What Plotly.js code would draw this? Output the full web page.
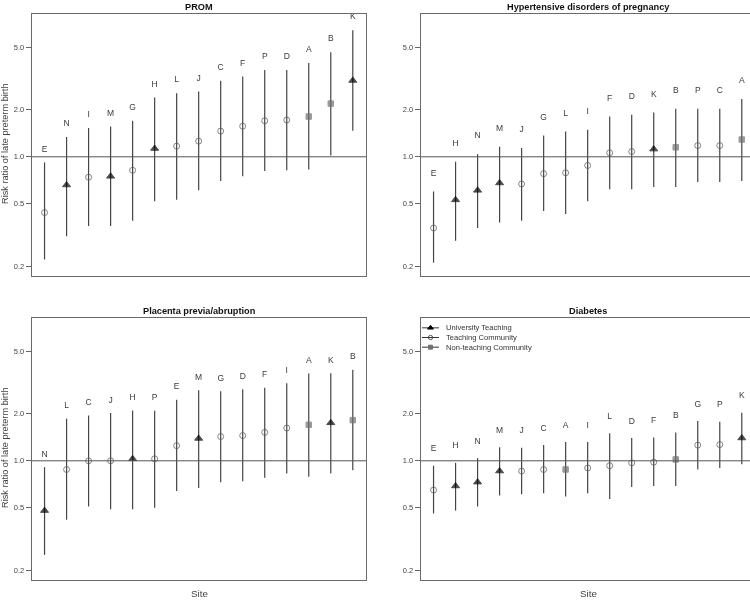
<!DOCTYPE html>
<html>
<head>
<meta charset="utf-8">
<script src="https://cdn.plot.ly/plotly-3.0.1.min.js"></script>
<style>
  html, body { margin: 0; padding: 0; overflow: hidden; background: #fff; }
  #chart { width: 760px; height: 603px; opacity: 0.999; will-change: transform; }
</style>
</head>
<body>
<div id="chart"></div>
<script>
// ---------- data ----------
const panelTitles = ['PROM', 'Hypertensive disorders of pregnancy', 'Placenta previa/abruption', 'Diabetes'];

const promSites = ['E','N','I','M','G','H','L','J','C','F','P','D','A','B','K'];
const promRR    = [0.44,0.66,0.74,0.75,0.82,1.13,1.17,1.26,1.46,1.57,1.70,1.72,1.81,2.19,3.08];
const promLo    = [0.22,0.31,0.36,0.36,0.39,0.52,0.53,0.61,0.70,0.75,0.81,0.82,0.83,1.02,1.47];
const promHi    = [0.92,1.34,1.53,1.56,1.70,2.40,2.55,2.62,3.07,3.27,3.59,3.59,3.98,4.67,6.45];

const hypSites = ['E','H','N','M','J','G','L','I','F','D','K','B','P','C','A'];
const hypRR    = [0.35,0.53,0.61,0.68,0.67,0.78,0.79,0.88,1.06,1.08,1.12,1.15,1.18,1.18,1.29];
const hypLo    = [0.21,0.29,0.35,0.38,0.39,0.45,0.43,0.52,0.62,0.62,0.64,0.64,0.69,0.69,0.70];
const hypHi    = [0.60,0.93,1.04,1.16,1.14,1.37,1.45,1.49,1.81,1.86,1.92,2.03,2.03,2.03,2.34];

const plaSites = ['N','L','C','J','H','P','E','M','G','D','F','I','A','K','B'];
const plaRR    = [0.48,0.88,1.00,1.00,1.03,1.03,1.25,1.39,1.43,1.45,1.52,1.62,1.70,1.75,1.82];
const plaLo    = [0.25,0.42,0.51,0.49,0.49,0.50,0.64,0.67,0.73,0.74,0.78,0.83,0.79,0.83,0.87];
const plaHi    = [0.91,1.86,1.95,2.02,2.10,2.09,2.46,2.83,2.79,2.87,2.93,3.14,3.62,3.64,3.82];

const diaSites = ['E','H','N','M','J','C','A','I','L','D','F','B','G','P','K'];
const diaRR    = [0.65,0.69,0.73,0.86,0.86,0.88,0.88,0.90,0.93,0.97,0.98,1.02,1.26,1.27,1.40];
const diaLo    = [0.46,0.48,0.51,0.60,0.61,0.62,0.59,0.62,0.57,0.68,0.69,0.69,0.88,0.90,0.95];
const diaHi    = [0.93,0.97,1.04,1.22,1.21,1.26,1.32,1.32,1.50,1.40,1.41,1.52,1.80,1.78,2.03];

const universitySites = ['H','K','M','N'];
const nonTeachingSites = ['A','B'];
const legendLabels = ['University Teaching', 'Teaching Community', 'Non-teaching Community'];

const yTickVals = [0.2, 0.5, 1, 2, 5];
const yTickText = ['0.2', '0.5', '1.0', '2.0', '5.0'];

// ---------- styling ----------
const FONT = 'Liberation Sans, Arial, Helvetica, sans-serif';
const W = 760, H = 603;
const typeStyle = {
  uni:  {symbol: 'triangle-up', color: '#000000', size: 7},
  tc:   {symbol: 'circle-open', color: '#555555', size: 6},
  non:  {symbol: 'square',      color: '#707070', size: 5.5}
};
function siteType(s) {
  if (universitySites.includes(s)) return 'uni';
  if (nonTeachingSites.includes(s)) return 'non';
  return 'tc';
}

const panels = [
  {sites: promSites, rr: promRR, lo: promLo, hi: promHi, ax: '',  box: [32, 366, 14, 276],  labelPx: 13},
  {sites: hypSites,  rr: hypRR,  lo: hypLo,  hi: hypHi,  ax: '2', box: [421, 755, 14, 276], labelPx: 18},
  {sites: plaSites,  rr: plaRR,  lo: plaLo,  hi: plaHi,  ax: '3', box: [32, 366, 318, 580], labelPx: 12.5},
  {sites: diaSites,  rr: diaRR,  lo: diaLo,  hi: diaHi,  ax: '4', box: [421, 755, 318, 580], labelPx: 16.5}
];

const yLogRange = [-0.763, 0.914];
const pxPerDecade = 262 / (yLogRange[1] - yLogRange[0]);

const traces = [];
const layout = {
  width: W, height: H,
  margin: {l: 0, r: 0, t: 0, b: 0},
  paper_bgcolor: '#ffffff', plot_bgcolor: '#ffffff',
  showlegend: false,
  font: {family: FONT, color: '#333'},
  shapes: [], annotations: []
};

panels.forEach((p, k) => {
  const xa = 'x' + p.ax, ya = 'y' + p.ax;
  const xKey = 'xaxis' + p.ax, yKey = 'yaxis' + p.ax;
  const [l, r, t, b] = p.box;
  layout[xKey] = {
    domain: [l / W, r / W], anchor: ya,
    type: 'category', categoryorder: 'array', categoryarray: p.sites,
    range: [-0.57, 14.6],
    showticklabels: false, ticks: '', showgrid: false, zeroline: false,
    showline: true, mirror: true, linecolor: '#6a6a6a', linewidth: 1.2,
    fixedrange: true
  };
  layout[yKey] = {
    domain: [(H - b) / H, (H - t) / H], anchor: xa,
    type: 'log', range: yLogRange,
    tickvals: yTickVals, ticktext: yTickText,
    ticks: 'outside', ticklen: 5, tickcolor: '#666', tickwidth: 1,
    tickfont: {size: 7.5, color: '#444', family: FONT},
    showgrid: false, zeroline: false,
    showline: true, mirror: true, linecolor: '#6a6a6a', linewidth: 1.2,
    fixedrange: true
  };
  // reference line at RR = 1
  layout.shapes.push({
    type: 'line', xref: xa + ' domain', x0: 0, x1: 1, yref: ya, y0: 1, y1: 1,
    line: {color: '#555', width: 1}
  });
  // points with confidence intervals
  const types = p.sites.map(siteType);
  traces.push({
    type: 'scatter', mode: 'markers', xaxis: xa, yaxis: ya,
    x: p.sites, y: p.rr,
    error_y: {
      type: 'data', symmetric: false,
      array: p.hi.map((h, i) => h - p.rr[i]),
      arrayminus: p.lo.map((v, i) => p.rr[i] - v),
      color: '#444444', thickness: 1.2, width: 0
    },
    marker: {
      symbol: types.map(t => typeStyle[t].symbol),
      color: types.map(t => typeStyle[t].color),
      size: types.map(t => typeStyle[t].size),
      line: {width: 1, color: types.map(t => typeStyle[t].color)}
    },
    hoverinfo: 'x+y'
  });
  // site letters above the upper CI
  const f = Math.pow(10, p.labelPx / pxPerDecade);
  traces.push({
    type: 'scatter', mode: 'text', xaxis: xa, yaxis: ya,
    x: p.sites, y: p.hi.map(h => h * f), text: p.sites,
    textposition: 'middle center',
    textfont: {size: 8.5, color: '#3a3a3a', family: FONT},
    cliponaxis: false, hoverinfo: 'skip'
  });
  // panel title
  layout.annotations.push({
    xref: 'paper', yref: 'paper', x: ((l + r) / 2) / W, y: (H - (t - 7.5)) / H,
    text: '<b>' + panelTitles[k] + '</b>', showarrow: false,
    xanchor: 'center', yanchor: 'middle',
    font: {size: 9.2, color: '#111', family: FONT}
  });
  // y-axis title on left panels
  if (k % 2 === 0) {
    layout.annotations.push({
      xref: 'paper', yref: 'paper', x: 5 / W, y: (H - ((t + b) / 2 - 1)) / H,
      text: 'Risk ratio of late preterm birth', textangle: -90, showarrow: false,
      xanchor: 'center', yanchor: 'middle',
      font: {size: 9.2, color: '#444', family: FONT}
    });
  }
  // x-axis title on bottom panels
  if (k >= 2) {
    layout.annotations.push({
      xref: 'paper', yref: 'paper', x: ((l + r) / 2) / W, y: (H - 593) / H,
      text: 'Site', showarrow: false, xanchor: 'center', yanchor: 'middle',
      font: {size: 9.8, color: '#444', family: FONT}
    });
  }
});

// ---------- legend (inside Diabetes panel, top-left) ----------
layout.xaxis5 = {domain: [422 / W, 439 / W], range: [0, 2], visible: false, fixedrange: true, anchor: 'y5'};
layout.yaxis5 = {domain: [(H - 352) / H, (H - 323) / H], range: [2.5, -0.5], visible: false, fixedrange: true, anchor: 'x5'};
['uni', 'tc', 'non'].forEach((t, i) => {
  const st = typeStyle[t];
  traces.push({
    type: 'scatter', mode: 'lines', xaxis: 'x5', yaxis: 'y5',
    x: [0, 2], y: [i, i], line: {color: '#333', width: 1}, hoverinfo: 'skip'
  });
  traces.push({
    type: 'scatter', mode: 'markers', xaxis: 'x5', yaxis: 'y5',
    x: [1], y: [i],
    marker: {symbol: st.symbol, color: st.color, size: st.size * 0.72, line: {width: 1, color: st.color}},
    hoverinfo: 'skip'
  });
  layout.annotations.push({
    xref: 'paper', yref: 'y5', x: 444 / W, y: i, text: legendLabels[i],
    showarrow: false, xanchor: 'left', yanchor: 'middle',
    font: {size: 7.6, color: '#333', family: FONT}
  });
});

Plotly.newPlot('chart', traces, layout, {displayModeBar: false, staticPlot: true});
</script>
</body>
</html>
